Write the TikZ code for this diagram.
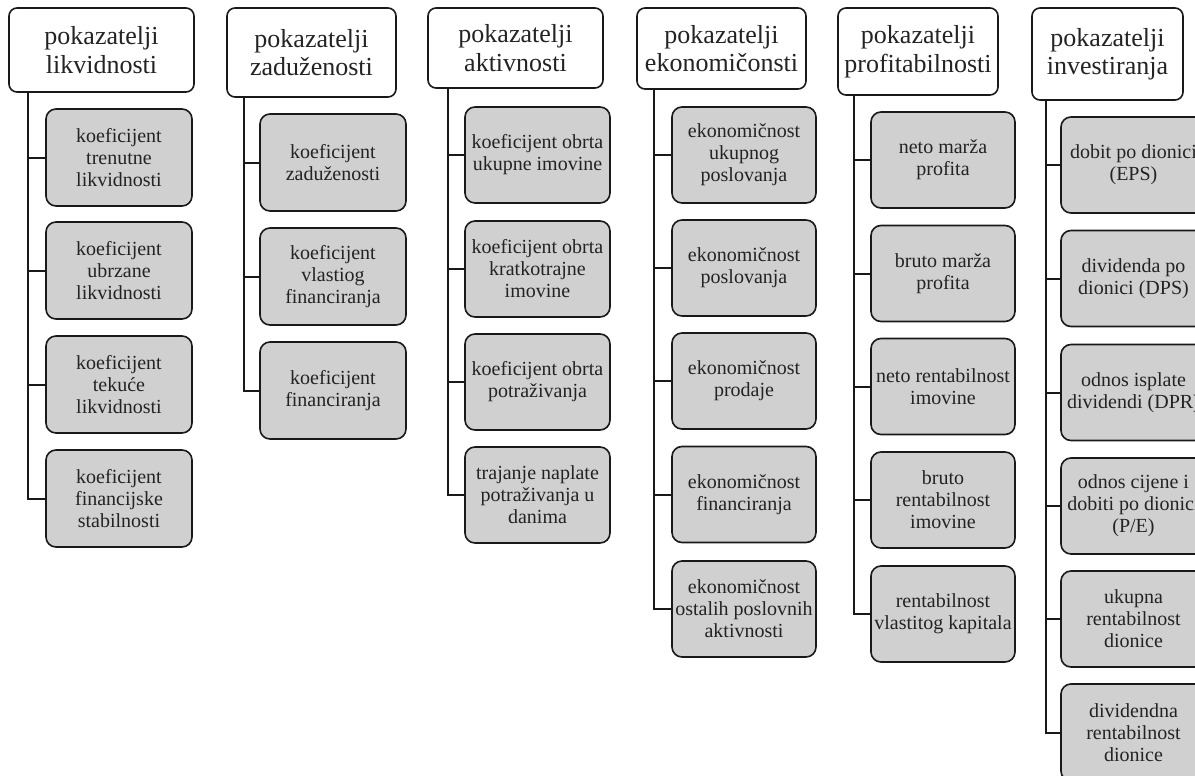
\documentclass[tikz,border=0pt]{standalone}
\usepackage{fontspec}
\setmainfont{Liberation Serif}
\definecolor{boxgray}{RGB}{208,208,208}
\definecolor{edge}{RGB}{25,25,25}
\definecolor{txt}{RGB}{35,35,35}
\tikzset{
  head/.style={draw=edge, line width=1.6pt, fill=white, rounded corners=8pt, align=center, inner sep=0pt,
    text=txt, font=\fontsize{26}{28.5}\selectfont},
  leaf/.style={draw=edge, line width=1.6pt, fill=boxgray, rounded corners=10pt, align=center, inner sep=0pt,
    text=txt, font=\fontsize{20}{22}\selectfont},
  conn/.style={draw=edge, line width=2pt},
}
\begin{document}
\begin{tikzpicture}[x=1pt,y=-1pt]
\useasboundingbox (0,0) rectangle (1195,776);
% ---------- column 1
\node[head, minimum width=185pt, minimum height=84pt] (h1) at (101.5,50) {pokazatelji\\likvidnosti};
\node[leaf, minimum width=146pt, minimum height=97pt] (c11) at (119,157.5) {koeficijent\\trenutne\\likvidnosti};
\node[leaf, minimum width=146pt, minimum height=97pt] (c12) at (119,270.5) {koeficijent\\ubrzane\\likvidnosti};
\node[leaf, minimum width=146pt, minimum height=97pt] (c13) at (119,384.5) {koeficijent\\tekuće\\likvidnosti};
\node[leaf, minimum width=146pt, minimum height=97pt] (c14) at (119,498.5) {koeficijent\\financijske\\stabilnosti};
\coordinate (t1) at (28,0);
% ---------- column 2
\node[head, minimum width=169pt, minimum height=89pt] (h2) at (311.5,52.5) {pokazatelji\\zaduženosti};
\node[leaf, minimum width=146pt, minimum height=97pt] (c21) at (333,162.5) {koeficijent\\zaduženosti};
\node[leaf, minimum width=146pt, minimum height=97pt] (c22) at (333,276.5) {koeficijent\\vlastiog\\financiranja};
\node[leaf, minimum width=146pt, minimum height=97pt] (c23) at (333,390.5) {koeficijent\\financiranja};
\coordinate (t2) at (244,0);
% ---------- column 3
\node[head, minimum width=175pt, minimum height=80pt] (h3) at (515.5,48) {pokazatelji\\aktivnosti};
\node[leaf, minimum width=145pt, minimum height=96pt] (c31) at (537.5,155) {koeficijent obrta\\ukupne imovine};
\node[leaf, minimum width=145pt, minimum height=96pt] (c32) at (537.5,269) {koeficijent obrta\\kratkotrajne\\imovine};
\node[leaf, minimum width=145pt, minimum height=96pt] (c33) at (537.5,382) {koeficijent obrta\\potraživanja};
\node[leaf, minimum width=145pt, minimum height=96pt] (c34) at (537.5,495) {trajanje naplate\\potraživanja u\\danima};
\coordinate (t3) at (448,0);
% ---------- column 4
\node[head, minimum width=169pt, minimum height=81pt] (h4) at (721.5,48.5) {pokazatelji\\ekonomičonsti};
\node[leaf, minimum width=144pt, minimum height=96pt] (c41) at (744,155) {ekonomičnost\\ukupnog\\poslovanja};
\node[leaf, minimum width=144pt, minimum height=96pt] (c42) at (744,268) {ekonomičnost\\poslovanja};
\node[leaf, minimum width=144pt, minimum height=96pt] (c43) at (744,381) {ekonomičnost\\prodaje};
\node[leaf, minimum width=144pt, minimum height=96pt] (c44) at (744,494.5) {ekonomičnost\\financiranja};
\node[leaf, minimum width=144pt, minimum height=96pt] (c45) at (744,609) {ekonomičnost\\ostalih poslovnih\\aktivnosti};
\coordinate (t4) at (654,0);
% ---------- column 5
\node[head, minimum width=160pt, minimum height=87pt] (h5) at (918,51.5) {pokazatelji\\profitabilnosti};
\node[leaf, minimum width=144pt, minimum height=96pt] (c51) at (943,160) {neto marža\\profita};
\node[leaf, minimum width=144pt, minimum height=96pt] (c52) at (943,273.5) {bruto marža\\profita};
\node[leaf, minimum width=144pt, minimum height=96pt] (c53) at (943,386.5) {neto rentabilnost\\imovine};
\node[leaf, minimum width=144pt, minimum height=96pt] (c54) at (943,500) {bruto\\rentabilnost\\imovine};
\node[leaf, minimum width=144pt, minimum height=96pt] (c55) at (943,614) {rentabilnost\\vlastitog kapitala};
\coordinate (t5) at (854,0);
% ---------- column 6
\node[head, minimum width=151pt, minimum height=92pt] (h6) at (1107.5,54) {pokazatelji\\investiranja};
\node[leaf, minimum width=145pt, minimum height=96pt] (c61) at (1133.5,165) {dobit po dionici\\(EPS)};
\node[leaf, minimum width=145pt, minimum height=96pt] (c62) at (1133.5,278.5) {dividenda po\\dionici (DPS)};
\node[leaf, minimum width=145pt, minimum height=96pt] (c63) at (1133.5,392.5) {odnos isplate\\dividendi (DPR)};
\node[leaf, minimum width=145pt, minimum height=96pt] (c64) at (1133.5,506) {odnos cijene i\\dobiti po dionici\\(P/E)};
\node[leaf, minimum width=145pt, minimum height=96pt] (c65) at (1133.5,619) {ukupna\\rentabilnost\\dionice};
\node[leaf, minimum width=145pt, minimum height=97pt] (c66) at (1133.5,732.5) {dividendna\\rentabilnost\\dionice};
\coordinate (t6) at (1046,0);
% ---------- connectors
\foreach \c in {c11,c12,c13,c14} \draw[conn] (t1 |- h1.south) |- (\c.west);
\foreach \c in {c21,c22,c23} \draw[conn] (t2 |- h2.south) |- (\c.west);
\foreach \c in {c31,c32,c33,c34} \draw[conn] (t3 |- h3.south) |- (\c.west);
\foreach \c in {c41,c42,c43,c44,c45} \draw[conn] (t4 |- h4.south) |- (\c.west);
\foreach \c in {c51,c52,c53,c54,c55} \draw[conn] (t5 |- h5.south) |- (\c.west);
\foreach \c in {c61,c62,c63,c64,c65,c66} \draw[conn] (t6 |- h6.south) |- (\c.west);
\end{tikzpicture}
\end{document}
